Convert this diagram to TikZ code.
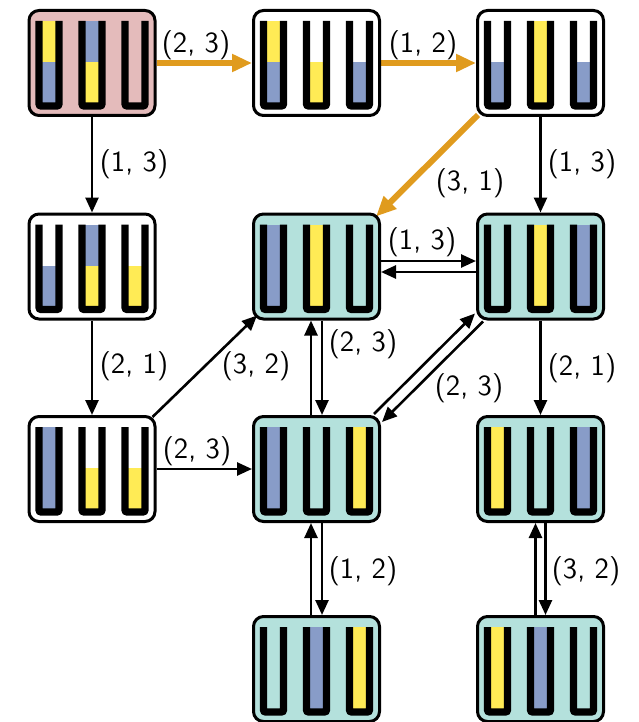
\documentclass[tikz,border=0pt]{standalone}
\usetikzlibrary{arrows.meta,calc}
\pgfdeclarelayer{background}
\pgfsetlayers{background,main}

\definecolor{pinkfill}{HTML}{E4BBBB}
\definecolor{tealfill}{HTML}{B4E1DC}
\definecolor{liqblue}{HTML}{889CC8}
\definecolor{liqyellow}{HTML}{FFEB55}
\definecolor{pathorange}{HTML}{E09B1E}

\tikzset{
  box/.style={draw, line width=1.5pt, rounded corners=5pt, rectangle,
    minimum width=63pt, minimum height=52.5pt, inner sep=0pt},
  wall/.style={line width=3.6pt, rounded corners=1pt},
  arr/.style={line width=1.3pt, -{Triangle[length=7.5pt,width=6.5pt]}},
  oarr/.style={line width=3pt, draw=pathorange,
    -{Triangle[length=10pt,width=8.5pt]}},
  lbl/.style={font=\sffamily\fontsize{14.6}{16}\selectfont, inner sep=0pt}
}

% one test tube: #1 horizontal offset, #2 lower liquid, #3 upper liquid
\newcommand\vial[3]{%
  \path[fill=#2] (#1-10,43) rectangle (#1+10,-1);
  \path[fill=#3] (#1-10,-1) rectangle (#1+10,-42);
  \draw[wall] (#1-10,-42) -- (#1-10,43) -- (#1+10,43) -- (#1+10,-42);}

% one state: name, position, background, then lower/upper liquid of tubes 1-3
\newcommand\state[9]{%
  \node[box, fill=#3] (#1) at (#2) {};
  \begin{scope}[shift={(#1.center)}]
    \vial{-43}{#4}{#5}
    \vial{0}{#6}{#7}
    \vial{43}{#8}{#9}
  \end{scope}}

\begin{document}
\begin{tikzpicture}[x=0.5pt, y=-0.5pt]
\useasboundingbox (0,0) rectangle (638,722);

% states
\state{s1}{92,63}{pinkfill}{liqblue}{liqyellow}{liqyellow}{liqblue}{none}{none}
\state{s2}{316.5,63}{white}{liqblue}{liqyellow}{liqyellow}{none}{liqblue}{none}
\state{s3}{540.5,63}{white}{liqblue}{none}{liqyellow}{liqyellow}{liqblue}{none}
\state{sa}{92,266.5}{white}{liqblue}{none}{liqyellow}{liqblue}{liqyellow}{none}
\state{s4}{316.5,266.5}{tealfill}{liqblue}{liqblue}{liqyellow}{liqyellow}{none}{none}
\state{s5}{540.5,266.5}{tealfill}{none}{none}{liqyellow}{liqyellow}{liqblue}{liqblue}
\state{sb}{92,469}{white}{liqblue}{liqblue}{liqyellow}{none}{liqyellow}{none}
\state{s6}{316.5,469}{tealfill}{liqblue}{liqblue}{none}{none}{liqyellow}{liqyellow}
\state{s7}{540.5,469}{tealfill}{liqyellow}{liqyellow}{none}{none}{liqblue}{liqblue}
\state{s8}{316.5,669}{tealfill}{none}{none}{liqblue}{liqblue}{liqyellow}{liqyellow}
\state{s9}{540.5,669}{tealfill}{liqyellow}{liqyellow}{liqblue}{liqblue}{none}{none}

% moves
\begin{pgfonlayer}{background}
  \draw[oarr] (s1.east) -- (s2.west);
  \draw[oarr] (s2.east) -- (s3.west);
  \draw[oarr] ($(s3.south west)+(2,-2)$) -- ($(s4.north east)+(-5,4)$);

  \draw[arr] (s1.south) -- (sa.north);
  \draw[arr] (s3.south) -- (s5.north);
  \draw[arr] (sa.south) -- (sb.north);
  \draw[arr] (sb.east) -- (s6.west);
  \draw[arr] ($(sb.north east)+(-4,2)$) -- ($(s4.south west)+(5,-5)$);
  \draw[arr] (s5.south) -- (s7.north);

  \draw[arr] ($(s4.east)+(0,-5.5)$) -- ($(s5.west)+(0,-5.5)$);
  \draw[arr] ($(s5.west)+(0,5.5)$) -- ($(s4.east)+(0,5.5)$);

  \draw[arr] ($(s6.north)+(-5.5,0)$) -- ($(s4.south)+(-5.5,0)$);
  \draw[arr] ($(s4.south)+(5.5,0)$) -- ($(s6.north)+(5.5,0)$);

  \draw[arr] ($(s6.north east)+(-7,-1)$) -- ($(s5.south west)+(-1,-7)$);
  \draw[arr] ($(s5.south west)+(7,1)$) -- ($(s6.north east)+(1,7)$);

  \draw[arr] ($(s8.north)+(-5.5,0)$) -- ($(s6.south)+(-5.5,0)$);
  \draw[arr] ($(s6.south)+(5.5,0)$) -- ($(s8.north)+(5.5,0)$);

  \draw[arr] ($(s9.north)+(-5,0)$) -- ($(s7.south)+(-5,0)$);
  \draw[arr] ($(s7.south)+(5,0)$) -- ($(s9.north)+(5,0)$);
\end{pgfonlayer}

% move labels
\node[lbl] (l12) at (196,45) {(2, 3)};
\node[lbl] (l23) at (423,45) {(1, 2)};
\node[lbl] (l34) at (470,183) {(3, 1)};
\node[lbl] (l1a) at (134,164) {(1, 3)};
\node[lbl] (l35) at (582,164) {(1, 3)};
\node[lbl] (l45) at (422,242) {(1, 3)};
\node[lbl] (lab) at (134,366) {(2, 1)};
\node[lbl] (lb4) at (256,366) {(3, 2)};
\node[lbl] (l46) at (363,344) {(2, 3)};
\node[lbl] (l65) at (469,388) {(2, 3)};
\node[lbl] (l57) at (582,368) {(2, 1)};
\node[lbl] (lb6) at (197,451) {(2, 3)};
\node[lbl] (l68) at (363,571) {(1, 2)};
\node[lbl] (l79) at (586,571) {(3, 2)};
\end{tikzpicture}
\end{document}
